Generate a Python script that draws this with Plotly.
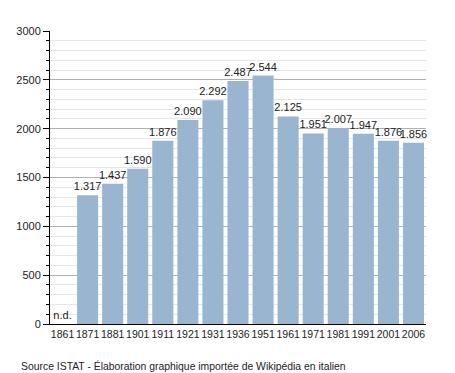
import plotly.graph_objects as go

years = ["1861", "1871", "1881", "1901", "1911", "1921", "1931", "1936",
         "1951", "1961", "1971", "1981", "1991", "2001", "2006"]
population = [0, 1317, 1437, 1590, 1876, 2090, 2292, 2487,
              2544, 2125, 1951, 2007, 1947, 1876, 1856]
labels = ["n.d.", "1.317", "1.437", "1.590", "1.876", "2.090", "2.292", "2.487",
          "2.544", "2.125", "1.951", "2.007", "1.947", "1.876", "1.856"]

font = "Liberation Sans, Arial, sans-serif"

fig = go.Figure(go.Bar(
    x=years, y=population, text=labels, textposition="outside",
    constraintext="none",
    marker=dict(color="#9ab5d0", line=dict(width=0)),
    textfont=dict(family=font, size=11, color="#222"),
    cliponaxis=False,
))

fig.update_layout(
    width=455, height=373,
    margin=dict(l=50, r=29, t=31, b=49),
    plot_bgcolor="white", paper_bgcolor="white",
    bargap=0.16,
    showlegend=False,
    font=dict(family=font, size=11, color="#222"),
    xaxis=dict(showline=True, linecolor="black", linewidth=1, ticks="",
               tickangle=0, automargin=False,
               tickfont=dict(size=10.5), showgrid=False),
    yaxis=dict(range=[0, 3000], dtick=500, showline=True, linecolor="black",
               linewidth=1, ticks="outside", ticklen=6, tickcolor="black",
               gridcolor="#b0b0b0", gridwidth=1, zeroline=False,
               automargin=False, tickfont=dict(size=11),
               minor=dict(dtick=100, showgrid=True, gridcolor="#e6e6e6",
                          ticks="outside", ticklen=3, tickcolor="black")),
    annotations=[dict(text="Source ISTAT - Élaboration graphique importée de Wikipédia en italien",
                      xref="paper", yref="paper", x=-0.083, y=-0.115,
                      xanchor="left", yanchor="top", showarrow=False,
                      font=dict(family=font, size=10.4, color="#222"))],
)

fig.write_html("out.html", config={"displayModeBar": False},
               post_script="document.body.style.margin='0';document.body.style.overflow='hidden';")
